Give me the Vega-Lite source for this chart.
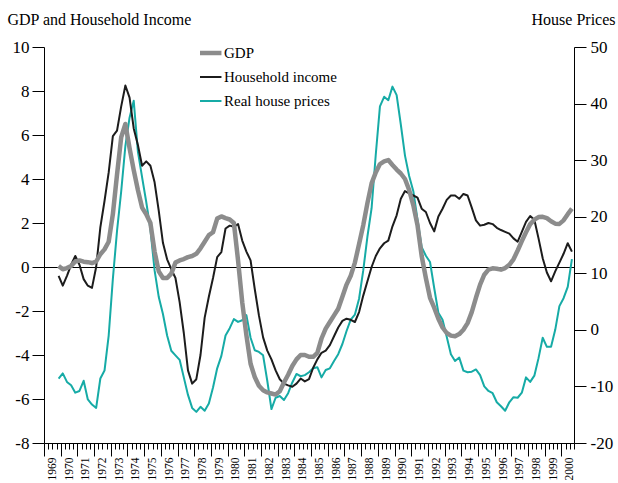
{
 "$schema": "https://vega.github.io/schema/vega-lite/v6.json",
 "width": 530, "height": 396,
 "autosize": "none",
 "padding": {"left": 44, "top": 47, "right": 44, "bottom": 40},
 "background": "white",
 "config": {
  "view": {"stroke": null},
  "font": "Liberation Serif",
  "axis": {"labelFont": "Liberation Serif", "titleFont": "Liberation Serif", "labelColor": "black", "titleColor": "black", "domainColor": "black", "tickColor": "black", "titleFontWeight": "normal", "domainWidth": 1, "tickWidth": 1}
 },
 "datasets": {
  "gdp": [
   {"t":1969.875,"v":0.05},
   {"t":1970.125,"v":-0.1},{"t":1970.375,"v":-0.05},{"t":1970.625,"v":0.05},{"t":1970.875,"v":0.25},
   {"t":1971.125,"v":0.3},{"t":1971.375,"v":0.24},{"t":1971.625,"v":0.22},{"t":1971.875,"v":0.18},
   {"t":1972.125,"v":0.25},{"t":1972.375,"v":0.58},{"t":1972.625,"v":0.8},{"t":1972.875,"v":1.15},
   {"t":1973.125,"v":2.4},{"t":1973.375,"v":4.2},{"t":1973.625,"v":5.9},{"t":1973.875,"v":6.5},
   {"t":1974.125,"v":5.4},{"t":1974.375,"v":4.4},{"t":1974.625,"v":3.5},{"t":1974.875,"v":2.7},
   {"t":1975.125,"v":2.4},{"t":1975.375,"v":2.0},{"t":1975.625,"v":0.7},{"t":1975.875,"v":-0.2},
   {"t":1976.125,"v":-0.5},{"t":1976.375,"v":-0.5},{"t":1976.625,"v":-0.3},{"t":1976.875,"v":0.2},
   {"t":1977.125,"v":0.3},{"t":1977.375,"v":0.36},{"t":1977.625,"v":0.45},{"t":1977.875,"v":0.5},
   {"t":1978.125,"v":0.6},{"t":1978.375,"v":0.85},{"t":1978.625,"v":1.15},{"t":1978.875,"v":1.45},
   {"t":1979.125,"v":1.58},{"t":1979.375,"v":2.2},{"t":1979.625,"v":2.3},{"t":1979.875,"v":2.22},
   {"t":1980.125,"v":2.16},{"t":1980.375,"v":2.0},{"t":1980.625,"v":0.3},{"t":1980.875,"v":-1.6},
   {"t":1981.125,"v":-3.1},{"t":1981.375,"v":-4.4},{"t":1981.625,"v":-5.0},{"t":1981.875,"v":-5.4},
   {"t":1982.125,"v":-5.6},{"t":1982.375,"v":-5.7},{"t":1982.625,"v":-5.75},{"t":1982.875,"v":-5.8},
   {"t":1983.125,"v":-5.65},{"t":1983.375,"v":-5.25},{"t":1983.625,"v":-4.9},{"t":1983.875,"v":-4.5},
   {"t":1984.125,"v":-4.2},{"t":1984.375,"v":-4.0},{"t":1984.625,"v":-4.0},{"t":1984.875,"v":-4.08},
   {"t":1985.125,"v":-4.08},{"t":1985.375,"v":-3.9},{"t":1985.625,"v":-3.25},{"t":1985.875,"v":-2.8},
   {"t":1986.125,"v":-2.5},{"t":1986.375,"v":-2.2},{"t":1986.625,"v":-1.9},{"t":1986.875,"v":-1.35},
   {"t":1987.125,"v":-0.8},{"t":1987.375,"v":-0.4},{"t":1987.625,"v":0.2},{"t":1987.875,"v":1.05},
   {"t":1988.125,"v":1.9},{"t":1988.375,"v":2.9},{"t":1988.625,"v":3.8},{"t":1988.875,"v":4.3},
   {"t":1989.125,"v":4.68},{"t":1989.375,"v":4.8},{"t":1989.625,"v":4.86},{"t":1989.875,"v":4.64},
   {"t":1990.125,"v":4.43},{"t":1990.375,"v":4.25},{"t":1990.625,"v":4.0},{"t":1990.875,"v":3.5},
   {"t":1991.125,"v":2.8},{"t":1991.375,"v":1.9},{"t":1991.625,"v":0.5},{"t":1991.875,"v":-0.5},
   {"t":1992.125,"v":-1.4},{"t":1992.375,"v":-1.85},{"t":1992.625,"v":-2.35},{"t":1992.875,"v":-2.75},
   {"t":1993.125,"v":-3.0},{"t":1993.375,"v":-3.12},{"t":1993.625,"v":-3.15},{"t":1993.875,"v":-3.05},
   {"t":1994.125,"v":-2.85},{"t":1994.375,"v":-2.55},{"t":1994.625,"v":-2.05},{"t":1994.875,"v":-1.4},
   {"t":1995.125,"v":-0.8},{"t":1995.375,"v":-0.35},{"t":1995.625,"v":-0.12},{"t":1995.875,"v":-0.06},
   {"t":1996.125,"v":-0.08},{"t":1996.375,"v":-0.12},{"t":1996.625,"v":-0.05},{"t":1996.875,"v":0.1},
   {"t":1997.125,"v":0.35},{"t":1997.375,"v":0.75},{"t":1997.625,"v":1.18},{"t":1997.875,"v":1.58},
   {"t":1998.125,"v":1.95},{"t":1998.375,"v":2.15},{"t":1998.625,"v":2.27},{"t":1998.875,"v":2.28},
   {"t":1999.125,"v":2.22},{"t":1999.375,"v":2.08},{"t":1999.625,"v":1.97},{"t":1999.875,"v":1.96},
   {"t":2000.125,"v":2.12},{"t":2000.375,"v":2.4},{"t":2000.625,"v":2.65}
  ],
  "inc": [
   {"t":1969.875,"v":-0.4},
   {"t":1970.125,"v":-0.85},{"t":1970.375,"v":-0.4},{"t":1970.625,"v":0.1},{"t":1970.875,"v":0.5},
   {"t":1971.125,"v":0.1},{"t":1971.375,"v":-0.55},{"t":1971.625,"v":-0.85},{"t":1971.875,"v":-0.95},
   {"t":1972.125,"v":0.0},{"t":1972.375,"v":1.8},{"t":1972.625,"v":3.0},{"t":1972.875,"v":4.3},
   {"t":1973.125,"v":5.95},{"t":1973.375,"v":6.2},{"t":1973.625,"v":7.3},{"t":1973.875,"v":8.25},
   {"t":1974.125,"v":7.7},{"t":1974.375,"v":6.3},{"t":1974.625,"v":5.55},{"t":1974.875,"v":4.6},
   {"t":1975.125,"v":4.8},{"t":1975.375,"v":4.6},{"t":1975.625,"v":3.85},{"t":1975.875,"v":2.55},
   {"t":1976.125,"v":1.1},{"t":1976.375,"v":0.35},{"t":1976.625,"v":-0.1},{"t":1976.875,"v":-0.5},
   {"t":1977.125,"v":-1.6},{"t":1977.375,"v":-3.0},{"t":1977.625,"v":-4.7},{"t":1977.875,"v":-5.3},
   {"t":1978.125,"v":-5.1},{"t":1978.375,"v":-4.0},{"t":1978.625,"v":-2.3},{"t":1978.875,"v":-1.35},
   {"t":1979.125,"v":-0.5},{"t":1979.375,"v":0.45},{"t":1979.625,"v":0.68},{"t":1979.875,"v":1.75},
   {"t":1980.125,"v":1.88},{"t":1980.375,"v":1.83},{"t":1980.625,"v":1.95},{"t":1980.875,"v":1.2},
   {"t":1981.125,"v":0.7},{"t":1981.375,"v":0.3},{"t":1981.625,"v":-1.0},{"t":1981.875,"v":-2.2},
   {"t":1982.125,"v":-3.2},{"t":1982.375,"v":-3.8},{"t":1982.625,"v":-4.2},{"t":1982.875,"v":-4.7},
   {"t":1983.125,"v":-5.1},{"t":1983.375,"v":-5.3},{"t":1983.625,"v":-5.38},{"t":1983.875,"v":-5.44},
   {"t":1984.125,"v":-5.3},{"t":1984.375,"v":-5.07},{"t":1984.625,"v":-5.2},{"t":1984.875,"v":-5.1},
   {"t":1985.125,"v":-4.58},{"t":1985.375,"v":-4.2},{"t":1985.625,"v":-3.9},{"t":1985.875,"v":-3.8},
   {"t":1986.125,"v":-3.55},{"t":1986.375,"v":-3.15},{"t":1986.625,"v":-2.75},{"t":1986.875,"v":-2.45},
   {"t":1987.125,"v":-2.35},{"t":1987.375,"v":-2.4},{"t":1987.625,"v":-2.5},{"t":1987.875,"v":-2.05},
   {"t":1988.125,"v":-1.3},{"t":1988.375,"v":-0.65},{"t":1988.625,"v":0.0},{"t":1988.875,"v":0.5},
   {"t":1989.125,"v":0.85},{"t":1989.375,"v":1.08},{"t":1989.625,"v":1.2},{"t":1989.875,"v":1.85},
   {"t":1990.125,"v":2.35},{"t":1990.375,"v":3.1},{"t":1990.625,"v":3.45},{"t":1990.875,"v":3.35},
   {"t":1991.125,"v":3.25},{"t":1991.375,"v":3.15},{"t":1991.625,"v":2.65},{"t":1991.875,"v":2.5},
   {"t":1992.125,"v":2.0},{"t":1992.375,"v":1.62},{"t":1992.625,"v":2.3},{"t":1992.875,"v":2.65},
   {"t":1993.125,"v":3.05},{"t":1993.375,"v":3.25},{"t":1993.625,"v":3.25},{"t":1993.875,"v":3.1},
   {"t":1994.125,"v":3.32},{"t":1994.375,"v":3.25},{"t":1994.625,"v":2.7},{"t":1994.875,"v":2.12},
   {"t":1995.125,"v":1.88},{"t":1995.375,"v":1.92},{"t":1995.625,"v":2.0},{"t":1995.875,"v":1.95},
   {"t":1996.125,"v":1.78},{"t":1996.375,"v":1.68},{"t":1996.625,"v":1.6},{"t":1996.875,"v":1.52},
   {"t":1997.125,"v":1.3},{"t":1997.375,"v":1.15},{"t":1997.625,"v":1.6},{"t":1997.875,"v":2.05},
   {"t":1998.125,"v":2.32},{"t":1998.375,"v":2.15},{"t":1998.625,"v":1.3},{"t":1998.875,"v":0.4},
   {"t":1999.125,"v":-0.25},{"t":1999.375,"v":-0.65},{"t":1999.625,"v":-0.2},{"t":1999.875,"v":0.2},
   {"t":2000.125,"v":0.6},{"t":2000.375,"v":1.08},{"t":2000.625,"v":0.7}
  ],
  "hp": [
   {"t":1969.875,"v":-8.6},
   {"t":1970.125,"v":-7.7},{"t":1970.375,"v":-9.2},{"t":1970.625,"v":-9.8},{"t":1970.875,"v":-11.1},
   {"t":1971.125,"v":-10.8},{"t":1971.375,"v":-9.0},{"t":1971.625,"v":-12.3},{"t":1971.875,"v":-13.2},
   {"t":1972.125,"v":-13.8},{"t":1972.375,"v":-8.6},{"t":1972.625,"v":-7.2},{"t":1972.875,"v":-1.0},
   {"t":1973.125,"v":9.0},{"t":1973.375,"v":17.5},{"t":1973.625,"v":24.5},{"t":1973.875,"v":32.5},
   {"t":1974.125,"v":37.5},{"t":1974.375,"v":40.5},{"t":1974.625,"v":31.5},{"t":1974.875,"v":27.0},
   {"t":1975.125,"v":22.6},{"t":1975.375,"v":17.8},{"t":1975.625,"v":10.5},{"t":1975.875,"v":5.8},
   {"t":1976.125,"v":2.8},{"t":1976.375,"v":-1.0},{"t":1976.625,"v":-3.7},{"t":1976.875,"v":-4.5},
   {"t":1977.125,"v":-5.3},{"t":1977.375,"v":-8.4},{"t":1977.625,"v":-11.5},{"t":1977.875,"v":-13.8},
   {"t":1978.125,"v":-14.5},{"t":1978.375,"v":-13.6},{"t":1978.625,"v":-14.3},{"t":1978.875,"v":-13.0},
   {"t":1979.125,"v":-10.2},{"t":1979.375,"v":-6.8},{"t":1979.625,"v":-4.6},{"t":1979.875,"v":-1.0},
   {"t":1980.125,"v":0.3},{"t":1980.375,"v":1.9},{"t":1980.625,"v":1.4},{"t":1980.875,"v":1.7},
   {"t":1981.125,"v":2.6},{"t":1981.375,"v":-1.4},{"t":1981.625,"v":-3.6},{"t":1981.875,"v":-3.9},
   {"t":1982.125,"v":-4.5},{"t":1982.375,"v":-9.0},{"t":1982.625,"v":-14.0},{"t":1982.875,"v":-12.0},
   {"t":1983.125,"v":-11.7},{"t":1983.375,"v":-12.4},{"t":1983.625,"v":-11.2},{"t":1983.875,"v":-9.3},
   {"t":1984.125,"v":-7.8},{"t":1984.375,"v":-8.2},{"t":1984.625,"v":-8.0},{"t":1984.875,"v":-7.5},
   {"t":1985.125,"v":-6.8},{"t":1985.375,"v":-6.6},{"t":1985.625,"v":-8.4},{"t":1985.875,"v":-7.1},
   {"t":1986.125,"v":-6.8},{"t":1986.375,"v":-5.5},{"t":1986.625,"v":-4.3},{"t":1986.875,"v":-2.5},
   {"t":1987.125,"v":-0.2},{"t":1987.375,"v":1.8},{"t":1987.625,"v":2.7},{"t":1987.875,"v":5.5},
   {"t":1988.125,"v":10.5},{"t":1988.375,"v":16.5},{"t":1988.625,"v":21.5},{"t":1988.875,"v":31.0},
   {"t":1989.125,"v":39.5},{"t":1989.375,"v":41.2},{"t":1989.625,"v":40.6},{"t":1989.875,"v":43.0},
   {"t":1990.125,"v":41.5},{"t":1990.375,"v":36.3},{"t":1990.625,"v":30.8},{"t":1990.875,"v":27.2},
   {"t":1991.125,"v":24.5},{"t":1991.375,"v":19.5},{"t":1991.625,"v":14.6},{"t":1991.875,"v":13.1},
   {"t":1992.125,"v":12.0},{"t":1992.375,"v":7.4},{"t":1992.625,"v":3.0},{"t":1992.875,"v":1.8},
   {"t":1993.125,"v":-1.2},{"t":1993.375,"v":-4.3},{"t":1993.625,"v":-5.5},{"t":1993.875,"v":-4.9},
   {"t":1994.125,"v":-7.2},{"t":1994.375,"v":-7.5},{"t":1994.625,"v":-7.4},{"t":1994.875,"v":-7.0},
   {"t":1995.125,"v":-8.0},{"t":1995.375,"v":-10.0},{"t":1995.625,"v":-10.8},{"t":1995.875,"v":-11.2},
   {"t":1996.125,"v":-12.8},{"t":1996.375,"v":-13.5},{"t":1996.625,"v":-14.3},{"t":1996.875,"v":-12.8},
   {"t":1997.125,"v":-11.9},{"t":1997.375,"v":-12.0},{"t":1997.625,"v":-11.1},{"t":1997.875,"v":-8.4},
   {"t":1998.125,"v":-9.2},{"t":1998.375,"v":-8.1},{"t":1998.625,"v":-5.0},{"t":1998.875,"v":-1.4},
   {"t":1999.125,"v":-3.0},{"t":1999.375,"v":-3.0},{"t":1999.625,"v":0.0},{"t":1999.875,"v":4.2},
   {"t":2000.125,"v":5.6},{"t":2000.375,"v":7.6},{"t":2000.625,"v":12.5}
  ]
 },
 "encoding": {
  "x": {
   "field": "t", "type": "quantitative",
   "scale": {"domain": [1969, 2000.75], "nice": false, "zero": false},
   "axis": {
    "title": null, "grid": false,
    "values": [1969,1969.25,1969.5,1969.75,1970,1970.25,1970.5,1970.75,1971,1971.25,1971.5,1971.75,1972,1972.25,1972.5,1972.75,1973,1973.25,1973.5,1973.75,1974,1974.25,1974.5,1974.75,1975,1975.25,1975.5,1975.75,1976,1976.25,1976.5,1976.75,1977,1977.25,1977.5,1977.75,1978,1978.25,1978.5,1978.75,1979,1979.25,1979.5,1979.75,1980,1980.25,1980.5,1980.75,1981,1981.25,1981.5,1981.75,1982,1982.25,1982.5,1982.75,1983,1983.25,1983.5,1983.75,1984,1984.25,1984.5,1984.75,1985,1985.25,1985.5,1985.75,1986,1986.25,1986.5,1986.75,1987,1987.25,1987.5,1987.75,1988,1988.25,1988.5,1988.75,1989,1989.25,1989.5,1989.75,1990,1990.25,1990.5,1990.75,1991,1991.25,1991.5,1991.75,1992,1992.25,1992.5,1992.75,1993,1993.25,1993.5,1993.75,1994,1994.25,1994.5,1994.75,1995,1995.25,1995.5,1995.75,1996,1996.25,1996.5,1996.75,1997,1997.25,1997.5,1997.75,1998,1998.25,1998.5,1998.75,1999,1999.25,1999.5,1999.75,2000,2000.25,2000.5,2000.75],
    "tickSize": {"condition": {"test": "datum.value % 1 === 0", "value": 13}, "value": 6},
    "labelExpr": "datum.value % 1 === 0.5 ? '' + floor(datum.value) : ''",
    "labelAngle": -90, "labelFontSize": 11.5, "labelPadding": 8,
    "labelOverlap": false, "labelFlush": false, "labelBound": false
   }
  }
 },
 "layer": [
  {
   "data": {"name": "hp"},
   "mark": {"type": "line", "strokeWidth": 2, "strokeJoin": "round"},
   "encoding": {
    "y": {"field": "v", "type": "quantitative",
     "scale": {"domain": [-20, 50], "nice": false, "zero": false},
     "axis": {"orient": "right", "values": [-20,-10,0,10,20,30,40,50], "labelExpr": "'' + datum.value", "tickSize": 12, "labelPadding": 4, "labelFontSize": 17, "grid": false,
      "title": "House Prices", "titleAngle": 0, "titleAlign": "right", "titleBaseline": "alphabetic", "titleX": 41, "titleY": -23, "titleFontSize": 16}},
    "color": {"datum": "Real house prices", "type": "nominal",
     "scale": {"domain": ["GDP", "Household income", "Real house prices"], "range": ["#8c8c8c", "#1c1c1c", "#16aba6"]},
     "legend": {"orient": "none", "legendX": 156, "legendY": -6, "title": null, "padding": 0,
      "symbolType": "stroke", "symbolSize": 780, "clipHeight": 24, "rowPadding": 0,
      "labelFontSize": 15, "labelFont": "Liberation Serif", "labelColor": "black", "labelOffset": 9, "symbolStrokeWidth": 2,
      "encode": {"symbols": {"update": {"strokeWidth": {"signal": "datum.value === 'GDP' ? 4.5 : 2"}}}}}}
   }
  },
  {
   "layer": [
    {
     "data": {"name": "inc"},
     "mark": {"type": "line", "strokeWidth": 2, "strokeJoin": "round"},
     "encoding": {
      "y": {"field": "v", "type": "quantitative",
       "scale": {"domain": [-8, 10], "nice": false, "zero": false},
       "axis": {"orient": "left", "values": [-8,-6,-4,-2,0,2,4,6,8,10], "labelExpr": "'' + datum.value", "tickSize": 12, "labelPadding": 3, "labelFontSize": 17,
        "grid": true, "gridColor": "black", "gridWidth": 1, "gridOpacity": {"condition": {"test": "datum.value === 0", "value": 1}, "value": 0},
        "title": "GDP and Household Income", "titleAngle": 0, "titleAlign": "left", "titleBaseline": "alphabetic", "titleX": -37, "titleY": -23, "titleFontSize": 16}},
      "color": {"datum": "Household income", "type": "nominal"}
     }
    },
    {
     "data": {"name": "gdp"},
     "mark": {"type": "line", "strokeWidth": 4.5, "strokeJoin": "round"},
     "encoding": {
      "y": {"field": "v", "type": "quantitative",
       "scale": {"domain": [-8, 10], "nice": false, "zero": false},
       "axis": {"orient": "left", "values": [-8,-6,-4,-2,0,2,4,6,8,10], "labelExpr": "'' + datum.value", "tickSize": 12, "labelPadding": 3, "labelFontSize": 17,
        "grid": true, "gridColor": "black", "gridWidth": 1, "gridOpacity": {"condition": {"test": "datum.value === 0", "value": 1}, "value": 0},
        "title": "GDP and Household Income", "titleAngle": 0, "titleAlign": "left", "titleBaseline": "alphabetic", "titleX": -37, "titleY": -23, "titleFontSize": 16}},
      "color": {"datum": "GDP", "type": "nominal"}
     }
    }
   ]
  }
 ],
 "resolve": {"scale": {"y": "independent"}}
}
